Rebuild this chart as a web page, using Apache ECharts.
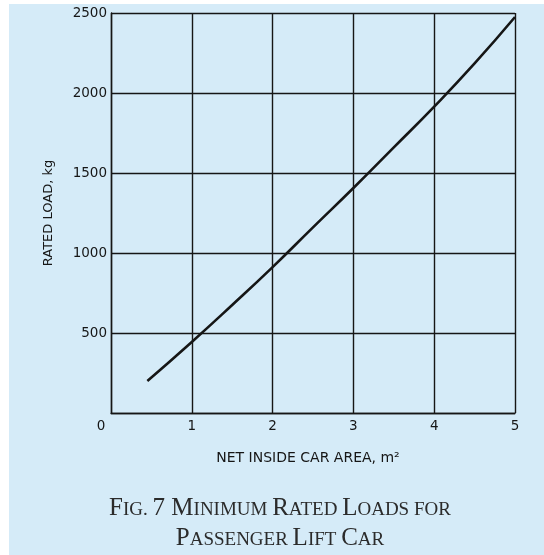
<!DOCTYPE html>
<html>
<head>
<meta charset="utf-8">
<script src="https://cdn.jsdelivr.net/npm/echarts@6/dist/echarts.min.js"></script>
<style>
  html, body { margin: 0; padding: 0; background: #ffffff; }
  #chart { position: absolute; left: 9px; top: 4px; width: 535px; height: 551px; background: #d5ebf8; }
</style>
</head>
<body>
<div id="chart"></div>
<script>
// Data
const areas = [0.45, 1.0, 1.5, 2.0, 2.5, 3.0, 3.5, 4.0, 4.5, 5.0];
const loads = [200, 444, 675, 912, 1160, 1406, 1660, 1915, 2185, 2475];
const xTicks = [0, 1, 2, 3, 4, 5];
const yTicks = [0, 500, 1000, 1500, 2000, 2500];
const xAxisTitle = 'NET INSIDE CAR AREA, m²';
const yAxisTitle = 'RATED LOAD, kg';
const captionLine1 = '{b|F}{s|IG. }{b|7 M}{s|INIMUM }{b|R}{s|ATED }{b|L}{s|OADS FOR}';
const captionLine2 = '{b|P}{s|ASSENGER }{b|L}{s|IFT }{b|C}{s|AR}';

const chart = echarts.init(document.getElementById('chart'), null, { renderer: 'canvas' });
const ink = '#161616';
const capRich = {
  b: { fontFamily: 'Liberation Serif', fontSize: 25, fontWeight: 'normal', color: '#2b2b2b', verticalAlign: 'bottom' },
  s: { fontFamily: 'Liberation Serif', fontSize: 19, fontWeight: 'normal', color: '#2b2b2b', verticalAlign: 'bottom', padding: [0, 0, 1, 0] }
};
const option = {
  backgroundColor: 'transparent',
  animation: false,
  title: [
    { text: captionLine1, left: 271, top: 492, textAlign: 'center', padding: 0, textStyle: { fontWeight: 'normal', rich: capRich } },
    { text: captionLine2, left: 271, top: 522, textAlign: 'center', padding: 0, textStyle: { fontWeight: 'normal', rich: capRich } }
  ],
  grid: { left: 102, top: 9, right: 29, bottom: 142, containLabel: false },
  xAxis: {
    type: 'value',
    min: xTicks[0], max: xTicks[xTicks.length - 1], interval: 1,
    name: xAxisTitle, nameLocation: 'middle', nameGap: 38,
    nameTextStyle: { fontFamily: 'DejaVu Sans', fontSize: 14, color: ink, padding: [0, 10, 0, 0] },
    axisLine: { show: true, lineStyle: { color: ink, width: 1.4 } },
    axisTick: { show: false },
    splitLine: { show: true, lineStyle: { color: ink, width: 1.4 } },
    axisLabel: {
      margin: 6,
      fontFamily: 'DejaVu Sans', fontSize: 13.5, color: ink,
      formatter: v => v === 0 ? '{z|0}' : String(v),
      rich: { z: { fontFamily: 'DejaVu Sans', fontSize: 13.5, color: ink, padding: [0, 20, 0, 0] } }
    }
  },
  yAxis: {
    type: 'value',
    min: yTicks[0], max: yTicks[yTicks.length - 1], interval: 500,
    name: yAxisTitle, nameLocation: 'middle', nameGap: 56,
    nameTextStyle: { fontFamily: 'DejaVu Sans', fontSize: 13, color: ink },
    axisLine: { show: true, lineStyle: { color: ink, width: 1.4 } },
    axisTick: { show: false },
    splitLine: { show: true, lineStyle: { color: ink, width: 1.4 } },
    axisLabel: {
      margin: 4,
      fontFamily: 'DejaVu Sans', fontSize: 13.5, color: ink,
      formatter: v => v === 0 ? '' : String(v)
    }
  },
  series: [{
    type: 'line',
    data: areas.map((a, i) => [a, loads[i]]),
    smooth: true,
    showSymbol: false,
    lineStyle: { color: '#161616', width: 2.6 },
    z: 5
  }]
};
chart.setOption(option);
</script>
</body>
</html>
